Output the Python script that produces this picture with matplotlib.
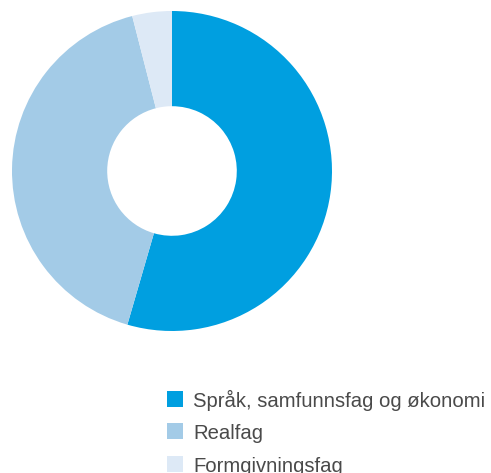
import matplotlib.pyplot as plt
from matplotlib.patches import Rectangle

labels = ['Språk, samfunnsfag og økonomi', 'Realfag', 'Formgivningsfag']
shares = [54.5, 41.5, 4.0]
colors = ['#009fe0', '#a3cbe7', '#dde9f6']

plt.rcParams['font.family'] = ['Liberation Sans', 'DejaVu Sans']

W, H = 491, 473
fig = plt.figure(figsize=(W / 100, H / 100), dpi=100)
ax = fig.add_axes([12 / W, 142 / H, 320 / W, 320 / H])

ax.pie(shares, colors=colors, startangle=90, counterclock=False, radius=1.0,
       wedgeprops=dict(width=0.595, linewidth=0))
ax.set_xlim(-1, 1)
ax.set_ylim(-1, 1)
ax.set_aspect('equal')
ax.axis('off')

# hand-made legend: square key sits on the text baseline
row_pitch = 32.3
for i, (lab, col) in enumerate(zip(labels, colors)):
    base = 407 + i * row_pitch
    fig.add_artist(Rectangle((167 / W, 1 - base / H), 16 / W, 16 / H,
                             facecolor=col, edgecolor='none',
                             transform=fig.transFigure))
    fig.text(193 / W, 1 - base / H, lab, fontsize=14.6,
             color='#4a4a4a', ha='left', va='baseline')

fig.savefig('out.png', dpi=100)
